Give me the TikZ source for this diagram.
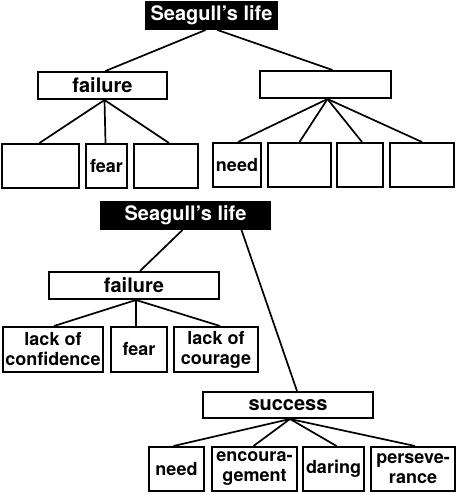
\documentclass[tikz,border=0pt]{standalone}
\usepackage{fontspec}
\setmainfont{TeX Gyre Heros}
\begin{document}
\begin{tikzpicture}[x=1pt,y=-1pt,
  box/.style={draw,line width=2pt,inner sep=0pt,align=center,font=\bfseries\fontsize{18}{20}\selectfont},
  head/.style={box,font=\bfseries\fontsize{20}{22}\selectfont},
  title/.style={head,fill=black,text=white},
  link/.style={line width=1.7pt}]
\useasboundingbox (0,0) rectangle (463,495);
% top tree
\node[title,minimum width=131pt,minimum height=27pt] (t1) at (211.5,15.5) {Seagull’s life};
\node[head,minimum width=129pt,minimum height=27pt] (f1) at (102.5,85.5) {failure};
\node[head,minimum width=131pt,minimum height=27pt] (s1) at (325.5,84.5) {};
\node[box,minimum width=77pt,minimum height=44pt] (a1) at (40.5,166) {};
\node[box,minimum width=41pt,minimum height=44pt] (a2) at (106.5,166) {fear};
\node[box,minimum width=64pt,minimum height=44pt] (a3) at (166,166) {};
\node[box,minimum width=48pt,minimum height=44pt] (b1) at (237,165) {need};
\node[box,minimum width=63pt,minimum height=44pt] (b2) at (299.5,165) {};
\node[box,minimum width=46pt,minimum height=44pt] (b3) at (360,165) {};
\node[box,minimum width=64pt,minimum height=44pt] (b4) at (422,165) {};
\draw[link] ([xshift=-6pt]t1.south) -- ([xshift=3pt]f1.north);
\draw[link] ([xshift=6pt]t1.south) -- ([xshift=7pt]s1.north);
\draw[link] ([xshift=2pt]f1.south) -- ([xshift=-1pt]a1.north);
\draw[link] ([xshift=2pt]f1.south) -- ([xshift=-1pt]a2.north);
\draw[link] ([xshift=2pt]f1.south) -- ([xshift=3pt]a3.north);
\draw[link] ([xshift=2pt]s1.south) -- ([xshift=1pt]b1.north);
\draw[link] ([xshift=2pt]s1.south) -- (b2.north);
\draw[link] ([xshift=2pt]s1.south) -- ([xshift=2pt]b3.north);
\draw[link] ([xshift=2pt]s1.south) -- (b4.north);
% bottom tree
\node[title,minimum width=169pt,minimum height=27pt] (t2) at (185.5,215.5) {Seagull’s life};
\node[head,minimum width=170pt,minimum height=27pt] (f2) at (134,285.5) {failure};
\node[box,minimum width=100pt,minimum height=45pt] (c1) at (53,349.5) {lack of\\confidence};
\node[box,minimum width=56pt,minimum height=45pt] (c2) at (139,349.5) {fear};
\node[box,minimum width=84pt,minimum height=45pt] (c3) at (216,349.5) {lack of\\courage};
\node[head,minimum width=170pt,minimum height=26pt] (s2) at (288,405) {success};
\node[box,minimum width=55pt,minimum height=44pt] (d1) at (176.5,469) {need};
\node[box,minimum width=85pt,minimum height=44pt] (d2) at (254.5,469) {encoura-\\gement};
\node[box,minimum width=61pt,minimum height=44pt] (d3) at (333.5,469) {daring};
\node[box,minimum width=84pt,minimum height=44pt] (d4) at (413,469) {perseve-\\rance};
\draw[link] ([xshift=-3pt]t2.south) -- ([xshift=6pt]f2.north);
\draw[link] ([xshift=56pt]t2.south) -- ([xshift=9pt]s2.north);
\draw[link] ([xshift=2pt]f2.south) -- ([xshift=1pt]c1.north);
\draw[link] ([xshift=2pt]f2.south) -- ([xshift=-3pt]c2.north);
\draw[link] ([xshift=2pt]f2.south) -- ([xshift=4pt]c3.north);
\draw[link] ([xshift=2pt]s2.south) -- ([xshift=-3pt]d1.north);
\draw[link] ([xshift=2pt]s2.south) -- ([xshift=-1pt]d2.north);
\draw[link] ([xshift=2pt]s2.south) -- ([xshift=3pt]d3.north);
\draw[link] ([xshift=2pt]s2.south) -- ([xshift=2pt]d4.north);
\end{tikzpicture}
\end{document}
